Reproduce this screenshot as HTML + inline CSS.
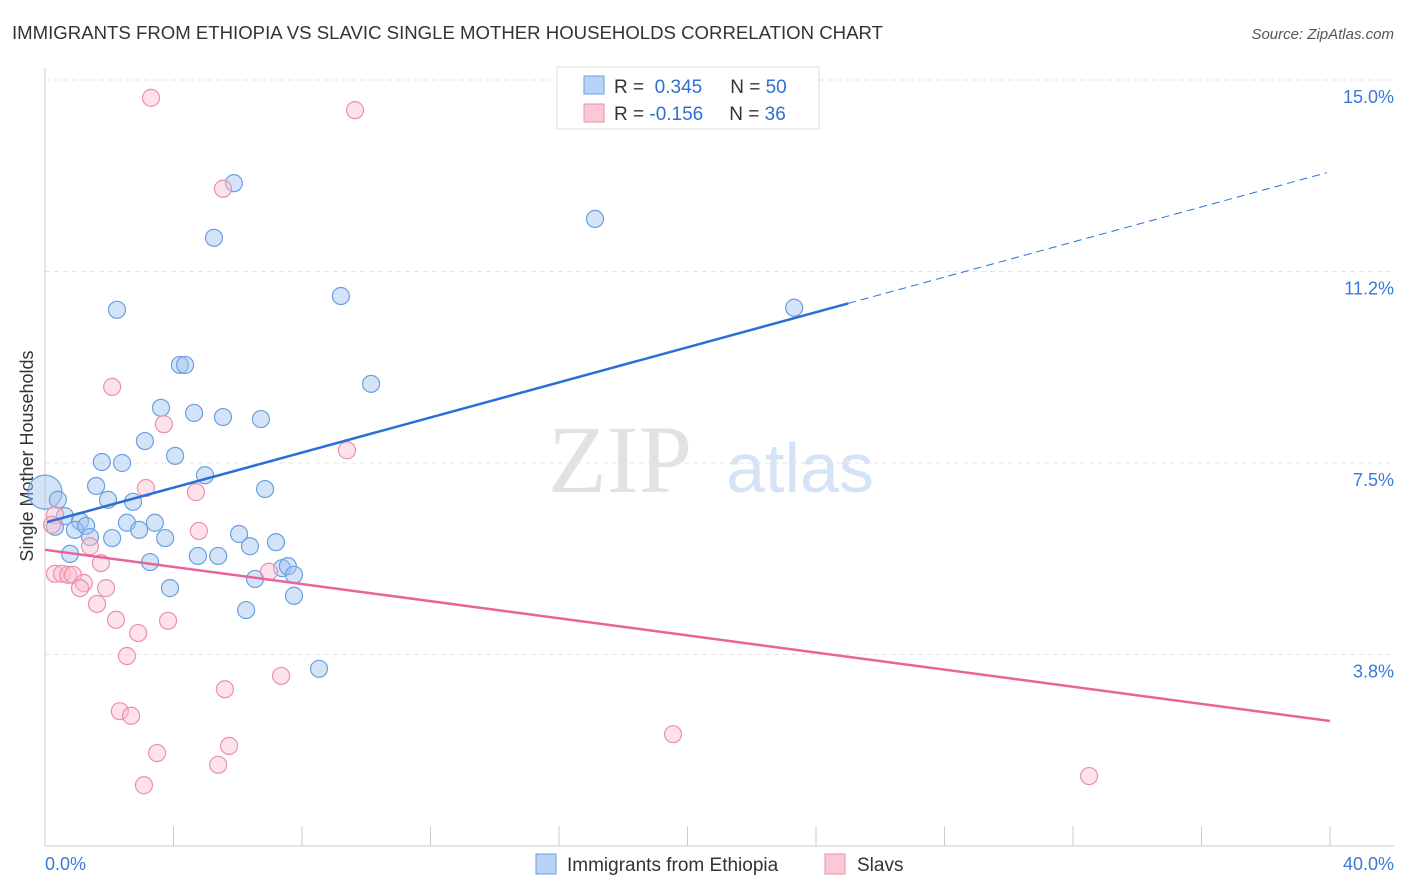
<!DOCTYPE html>
<html><head><meta charset="utf-8"><style>
body{margin:0;background:#fff;font-family:"Liberation Sans",sans-serif}
</style></head><body>
<svg id="chart" width="1406" height="892" xmlns="http://www.w3.org/2000/svg" style="display:block">
<text x="12" y="39" font-size="18.6" fill="#333">IMMIGRANTS FROM ETHIOPIA VS SLAVIC SINGLE MOTHER HOUSEHOLDS CORRELATION CHART</text>
<text x="1394" y="39" font-size="15" fill="#555" font-style="italic" text-anchor="end">Source: ZipAtlas.com</text>
<text x="620" y="492" font-size="96" fill="#e2e2e2" font-family="Liberation Serif,serif" text-anchor="middle">ZIP</text>
<text x="800" y="492" font-size="70" fill="#d4e3f5" text-anchor="middle">atlas</text>
<g id="grid"></g>
<g id="axes"></g>
<text transform="translate(33,456) rotate(-90)" font-size="18" fill="#333" text-anchor="middle">Single Mother Households</text>
<g id="marks"></g>
<g>
<rect x="557" y="67" width="262" height="62" fill="#fff" stroke="#ddd"/>
<rect x="584" y="76" width="20" height="18" fill="#b8d3f5" stroke="#6a9fe0"/>
<rect x="584" y="104" width="20" height="18" fill="#fbc8d6" stroke="#ec90aa"/>
<text x="614" y="93" font-size="19" fill="#333">R = <tspan fill="#2f6fd0">&#160;0.345</tspan><tspan dx="28">N = </tspan><tspan fill="#2f6fd0">50</tspan></text>
<text x="614" y="120" font-size="19" fill="#333">R = <tspan fill="#2f6fd0">-0.156</tspan><tspan dx="26">N = </tspan><tspan fill="#2f6fd0">36</tspan></text>
</g>
<g>
<rect x="536" y="854" width="20" height="20" fill="#b8d3f5" stroke="#6a9fe0"/>
<text x="567" y="871" font-size="19" fill="#333">Immigrants from Ethiopia</text>
<rect x="825" y="854" width="20" height="20" fill="#fbc8d6" stroke="#ec90aa"/>
<text x="857" y="871" font-size="19" fill="#333">Slavs</text>
</g>
</svg>
<script>
const blueX=[0.00,0.40,0.31,0.62,1.09,0.93,1.28,1.40,0.78,1.59,1.77,1.96,2.09,2.40,2.24,2.55,2.74,2.93,3.11,3.27,3.42,3.61,3.74,3.89,4.05,4.20,4.36,4.64,4.76,4.98,5.26,5.39,5.54,5.88,6.04,6.26,6.38,6.54,6.72,6.85,7.19,7.38,7.56,7.75,7.75,8.53,9.21,10.15,17.12,23.32];
const blueY=[6.93,6.78,6.25,6.46,6.36,6.19,6.27,6.05,5.72,7.05,7.52,6.78,6.03,7.50,10.50,6.33,6.74,6.19,7.93,5.56,6.33,8.58,6.03,5.05,7.64,9.42,9.42,8.48,5.68,7.26,11.91,5.68,8.40,12.98,6.11,4.62,5.87,5.23,8.36,6.99,5.95,5.44,5.48,5.31,4.90,3.47,10.77,9.05,12.28,10.54];
const pinkX=[3.30,9.65,5.54,2.09,3.70,9.40,3.14,4.70,4.79,0.31,0.22,1.40,0.31,0.53,0.72,0.87,1.21,1.09,1.74,1.90,1.62,2.21,2.90,3.83,2.55,5.60,7.35,2.33,2.68,3.49,5.39,5.73,3.08,6.97,19.55,32.50];
const pinkY=[14.65,14.41,12.87,8.99,8.26,7.75,7.01,6.93,6.17,6.48,6.29,5.87,5.33,5.33,5.31,5.31,5.15,5.05,5.54,5.05,4.74,4.43,4.17,4.41,3.72,3.07,3.33,2.64,2.55,1.82,1.59,1.96,1.19,5.37,2.19,1.37];
const blueTrend=[6.33,0.1718];
const pinkTrend=[5.80,-0.0838];
const yTicks=[3.8,7.5,11.2,15.0];
const yTickLabels=["3.8%","7.5%","11.2%","15.0%"];
const xTicks=[0,4,8,12,16,20,24,28,32,36,40];
const xs=v=>45+v/40*1285;
const ys=v=>846-v/3.75*191.5;
const NS="http://www.w3.org/2000/svg";
function mk(tag,attrs,parent){const e=document.createElementNS(NS,tag);for(const k in attrs)e.setAttribute(k,attrs[k]);parent.appendChild(e);return e;}
const grid=document.getElementById('grid'),axes=document.getElementById('axes'),marks=document.getElementById('marks');
const gridYs=[3.75,7.5,11.25,15.0];
gridYs.forEach((g,i)=>{
 const l=mk('line',{x1:45,x2:1394,y1:ys(g),y2:ys(g),stroke:'#e4e4e4','stroke-dasharray':'5,4'},grid);
 
 
 const t=mk('text',{x:1394,y:ys(g)+23,'font-size':18,fill:'#3b78d8','text-anchor':'end'},axes);
 t.textContent=yTickLabels[i];
 
 
});
const ax=mk('line',{x1:45,x2:1394,y1:846,y2:846,stroke:'#ccc'},axes);


const ay=mk('line',{x1:45,x2:45,y1:68,y2:846,stroke:'#ccc'},axes);


xTicks.forEach(v=>{
 const l=mk('line',{x1:xs(v),x2:xs(v),y1:826,y2:846,stroke:'#ccc'},axes);
 
 
});
const xl0=mk('text',{x:45,y:870,'font-size':18,fill:'#3b78d8'},axes);xl0.textContent='0.0%';


const xl1=mk('text',{x:1394,y:870,'font-size':18,fill:'#3b78d8','text-anchor':'end'},axes);xl1.textContent='40.0%';


blueX.forEach((x,i)=>{
 const c=mk('circle',{cx:xs(x),cy:ys(blueY[i]),r:i===0?17:8.5,fill:'rgba(160,196,240,0.45)',stroke:'#6a9fe0','stroke-width':1.2},marks);
 
 
});
pinkX.forEach((x,i)=>{
 const c=mk('circle',{cx:xs(x),cy:ys(pinkY[i]),r:8.5,fill:'rgba(250,190,208,0.45)',stroke:'#ec90aa','stroke-width':1.2},marks);
 
 
});
const b1=mk('line',{x1:xs(0.06),y1:ys(blueTrend[0]+blueTrend[1]*0.06),x2:xs(25),y2:ys(blueTrend[0]+blueTrend[1]*25),stroke:'#2a6fd6','stroke-width':2.5},marks);


const b2=mk('line',{x1:xs(25),y1:ys(blueTrend[0]+blueTrend[1]*25),x2:xs(39.9),y2:ys(blueTrend[0]+blueTrend[1]*39.9),stroke:'#2a6fd6','stroke-width':1,'stroke-dasharray':'8,5'},marks);


const p1=mk('line',{x1:xs(0),y1:ys(pinkTrend[0]),x2:xs(40),y2:ys(pinkTrend[0]+pinkTrend[1]*40),stroke:'#e8649a','stroke-width':2.5},marks);


</script>
</body></html>
